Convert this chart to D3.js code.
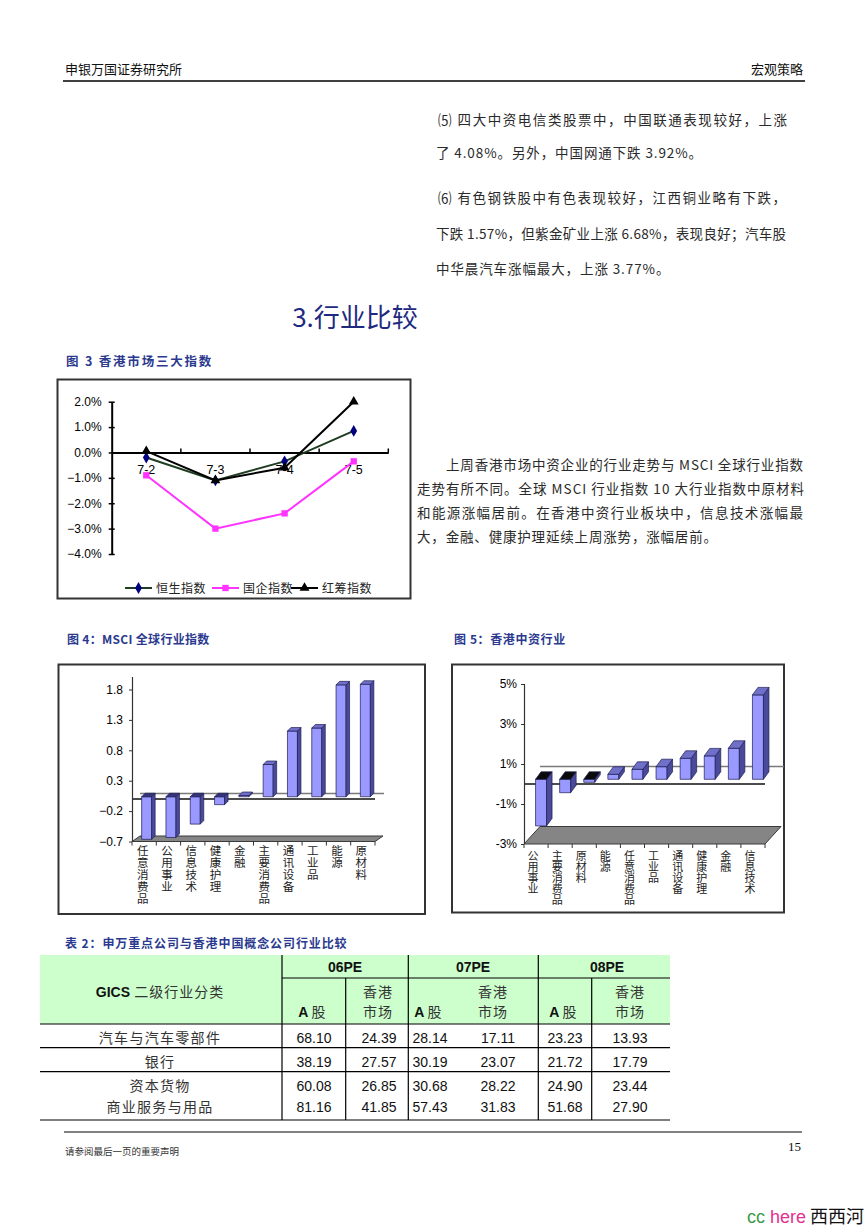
<!DOCTYPE html>
<html><head><meta charset="utf-8">
<script src="https://cdn.jsdelivr.net/npm/d3@7"></script>
<style>body{margin:0;background:#fff}svg{display:block}</style>
</head><body>
<script>
// ---------- data ----------
const fig3Dates = ["7-2", "7-3", "7-4", "7-5"];
const hsiValues = [-0.2, -1.1, -0.35, 0.85];      // 恒生指数
const hsceiValues = [-0.9, -3.0, -2.4, -0.35];    // 国企指数
const hscciValues = [0.05, -1.1, -0.6, 2.0];      // 红筹指数
const fig3Ticks = [2, 1, 0, -1, -2, -3, -4];
const fig3Legend = ["恒生指数", "国企指数", "红筹指数"];

const msciSectors = ["任意消费品", "公用事业", "信息技术", "健康护理", "金融", "主要消费品", "通讯设备", "工业品", "能源", "原材料"];
const msciValues = [-0.70, -0.67, -0.45, -0.13, 0.02, 0.53, 1.08, 1.13, 1.84, 1.85];
const msciTicks = [1.8, 1.3, 0.8, 0.3, -0.2, -0.7];

const hkSectors = ["公用事业", "主要消费品", "原材料", "能源", "任意消费品", "工业品", "通讯设备", "健康护理", "金融", "信息技术"];
const hkValues = [-2.33, -0.67, -0.15, 0.25, 0.5, 0.63, 1.05, 1.17, 1.55, 4.22];
const hkTicks = [5, 3, 1, -1, -3];

const tableSectors = ["汽车与汽车零部件", "银行", "资本货物", "商业服务与用品"];
const pe06A = [68.10, 38.19, 60.08, 81.16];
const pe06HK = [24.39, 27.57, 26.85, 41.85];
const pe07A = [28.14, 30.19, 30.68, 57.43];
const pe07HK = [17.11, 23.07, 28.22, 31.83];
const pe08A = [23.23, 21.72, 24.90, 51.68];
const pe08HK = [13.93, 17.79, 23.44, 27.90];
const peYears = ["06PE", "07PE", "08PE"];

// ---------- page ----------
const CJK = "'Noto Sans CJK SC', 'Noto Sans', sans-serif";
const SANS = "'Liberation Sans', Arial, sans-serif";
const SERIF = "'Liberation Serif', 'DejaVu Serif', serif";
const CAP = "#2b3a8f";

const svg = d3.select("body").append("svg").attr("width", 868).attr("height", 1229);
svg.append("rect").attr("width", 868).attr("height", 1229).attr("fill", "#fff");

function txt(x, y, s, o = {}) {
  const t = svg.append("text").attr("x", x).attr("y", y).text(s)
    .attr("font-family", o.family || CJK).attr("font-size", o.size || 14)
    .attr("fill", o.fill || "#222");
  if (o.anchor) t.attr("text-anchor", o.anchor);
  if (o.weight) t.attr("font-weight", o.weight);
  if (o.ls) t.attr("letter-spacing", o.ls);
  if (o.w) t.attr("textLength", o.w).attr("lengthAdjust", "spacing");
  return t;
}

// header
txt(65, 74, "申银万国证券研究所", {size: 13, fill: "#111"});
txt(803, 74, "宏观策略", {size: 13, fill: "#111", anchor: "end"});
svg.append("line").attr("x1", 63).attr("x2", 805).attr("y1", 81).attr("y2", 81).attr("stroke", "#000").attr("stroke-width", 1.5);

// paragraphs (upper right)
const para1 = [
  ["⑸ 四大中资电信类股票中，中国联通表现较好，上涨", 438, 125, 350],
  ["了 4.08%。另外，中国网通下跌 3.92%。", 436, 158, null],
  ["⑹ 有色钢铁股中有色表现较好，江西铜业略有下跌，", 438, 203, 349],
  ["下跌 1.57%，但紫金矿业上涨 6.68%，表现良好；汽车股", 436, 239, 351],
  ["中华晨汽车涨幅最大，上涨 3.77%。", 436, 274, null]
];
para1.forEach(p => txt(p[1], p[2], p[0], {size: 13.5, fill: "#2a2a2a", ls: 0.9, w: p[3] || null}));

// section title
txt(355, 327, "3.行业比较", {size: 26, fill: "#1e2a80", anchor: "middle"});

// captions
txt(66, 366, "图 3  香港市场三大指数", {size: 12.5, fill: CAP, weight: "bold", ls: 1.8});
txt(67, 644, "图 4：MSCI 全球行业指数", {size: 12, fill: CAP, weight: "bold", ls: 0.3});
txt(454, 644, "图 5：香港中资行业", {size: 12, fill: CAP, weight: "bold", ls: 0.6});
txt(65, 948, "表 2：申万重点公司与香港中国概念公司行业比较", {size: 12, fill: CAP, weight: "bold", ls: 0.9});

// right paragraph
const para2 = [
  ["上周香港市场中资企业的行业走势与 MSCI 全球行业指数", 446, 470, 357],
  ["走势有所不同。全球 MSCI 行业指数 10 大行业指数中原材料", 417, 494, 387],
  ["和能源涨幅居前。在香港中资行业板块中，信息技术涨幅最", 417, 518, 386],
  ["大，金融、健康护理延续上周涨势，涨幅居前。", 417, 542, 300]
];
para2.forEach(p => txt(p[1], p[2], p[0], {size: 13.5, fill: "#2a2a2a", w: p[3]}));

// ---------- Figure 3: line chart ----------
(function () {
  const g = svg.append("g");
  g.append("rect").attr("x", 57.5).attr("y", 379.5).attr("width", 353).attr("height", 219)
    .attr("fill", "#fff").attr("stroke", "#333").attr("stroke-width", 2);
  const x = d3.scaleBand().domain(fig3Dates).range([111.7, 388.3]);
  const y = d3.scaleLinear().domain([-4, 2]).range([554, 401.7]);
  const y0 = y(0);
  const ya = g.append("g").attr("transform", "translate(111.7,0)")
    .call(d3.axisLeft(y).tickValues(fig3Ticks).tickSizeOuter(0).tickSizeInner(3).tickPadding(7)
      .tickFormat(d => d3.format(".1f")(d) + "%"));
  ya.selectAll("line").attr("x1", 3).attr("x2", -3).attr("stroke", "#000").attr("stroke-width", 1.5);
  ya.select(".domain").attr("stroke", "#000").attr("stroke-width", 2);
  ya.selectAll("text").attr("font-family", SANS).attr("font-size", 12).attr("fill", "#000");
  const xa = g.append("g").attr("transform", `translate(0,${y0})`)
    .call(d3.axisBottom(x).tickSize(0).tickPadding(13));
  xa.select(".domain").attr("stroke", "#000").attr("stroke-width", 2);
  xa.selectAll("text").attr("font-family", SANS).attr("font-size", 12.5).attr("fill", "#000");
  g.selectAll(".xt").data(fig3Dates).join("line")
    .attr("x1", d => x(d) + x.bandwidth()).attr("x2", d => x(d) + x.bandwidth())
    .attr("y1", y0 - 4).attr("y2", y0).attr("stroke", "#000").attr("stroke-width", 1.5);

  const series = [
    {name: fig3Legend[0], vals: hsiValues, line: "#1f3d20", mark: "#000080", sym: d3.symbolDiamond, size: 40},
    {name: fig3Legend[1], vals: hsceiValues, line: "#ff33ff", mark: "#ff33ff", sym: d3.symbolSquare, size: 40},
    {name: fig3Legend[2], vals: hscciValues, line: "#000", mark: "#000", sym: d3.symbolTriangle, size: 42}
  ];
  const cx = d => x(d) + x.bandwidth() / 2;
  const line = d3.line().x(d => cx(d.k)).y(d => y(d.v));
  series.forEach(s => {
    const pts = fig3Dates.map((k, i) => ({k, v: s.vals[i]}));
    g.append("path").attr("d", line(pts)).attr("fill", "none").attr("stroke", s.line).attr("stroke-width", 2);
    g.selectAll(null).data(pts).join("path")
      .attr("transform", d => `translate(${cx(d.k)},${y(d.v)})`)
      .attr("d", d3.symbol(s.sym, s.size)).attr("fill", s.mark);
  });
  const lx = [125, 212, 291];
  series.forEach((s, i) => {
    const ly = 588;
    g.append("line").attr("x1", lx[i]).attr("x2", lx[i] + 27).attr("y1", ly).attr("y2", ly)
      .attr("stroke", s.line).attr("stroke-width", 2);
    g.append("path").attr("transform", `translate(${lx[i] + 13.5},${ly})`)
      .attr("d", d3.symbol(s.sym, s.size)).attr("fill", s.mark);
    g.append("text").attr("x", lx[i] + 31).attr("y", ly + 5).text(s.name)
      .attr("font-family", CJK).attr("font-size", 12).attr("fill", "#222").attr("letter-spacing", 0.5);
  });
})();

// ---------- 3D bar chart helper ----------
function bar3d(cfg) {
  const g = svg.append("g");
  g.append("rect").attr("x", cfg.box[0]).attr("y", cfg.box[1]).attr("width", cfg.box[2]).attr("height", cfg.box[3])
    .attr("fill", "#fff").attr("stroke", "#333").attr("stroke-width", 2);
  const x = d3.scaleBand().domain(cfg.cats).range([cfg.x0, cfg.x1]);
  const y = d3.scaleLinear().domain(cfg.domain).range(cfg.range);
  const [ddx, ddy] = cfg.depth;
  const yFloor = y(cfg.domain[0]);
  g.append("path").attr("d", `M${cfg.x0},${yFloor}L${cfg.x1},${yFloor}L${cfg.x1 + ddx},${yFloor + ddy}L${cfg.x0 + ddx},${yFloor + ddy}Z`)
    .attr("fill", "#858585").attr("stroke", "#3a3a3a").attr("stroke-width", 1);
  g.append("line").attr("x1", cfg.x0 + ddx).attr("x2", cfg.backEnd).attr("y1", y(0) + ddy).attr("y2", y(0) + ddy)
    .attr("stroke", "#7a7a7a").attr("stroke-width", 1.6);
  g.append("line").attr("x1", cfg.x0).attr("x2", cfg.x1).attr("y1", y(0)).attr("y2", y(0))
    .attr("stroke", "#111").attr("stroke-width", 1.6);
  const ya = g.append("g").attr("transform", `translate(${cfg.x0},0)`)
    .call(d3.axisLeft(y).tickValues(cfg.ticks).tickSizeOuter(0).tickSizeInner(3).tickPadding(cfg.pad).tickFormat(cfg.fmt));
  ya.select(".domain").attr("stroke", "#333").attr("stroke-width", 1.2)
    .attr("d", `M0.5,${yFloor}V${cfg.axisTop}`);
  ya.selectAll("line").attr("stroke", "#333");
  ya.selectAll("text").attr("font-family", SANS).attr("font-size", 12).attr("fill", "#000");
  g.selectAll(null).data(d3.range(cfg.cats.length + 1)).join("line")
    .attr("x1", i => cfg.x0 + i * x.step()).attr("x2", i => cfg.x0 + i * x.step())
    .attr("y1", yFloor).attr("y2", yFloor + 4).attr("stroke", "#333");
  const [ox, oy] = cfg.barOff, [bx, by] = cfg.barDepth, w = cfg.barW;
  cfg.cats.forEach((c, i) => {
    const v = cfg.vals[i];
    const xl = x(c) + x.bandwidth() / 2 - w / 2 + ox;
    const yTop = Math.min(y(v), y(0)) + oy, yBot = Math.max(y(v), y(0)) + oy;
    const bg = g.append("g").attr("stroke", "#1c1c55").attr("stroke-width", 0.7).attr("stroke-linejoin", "round");
    bg.append("rect").attr("x", xl).attr("y", yTop).attr("width", w).attr("height", yBot - yTop).attr("fill", "#9999ff");
    bg.append("path").attr("d", `M${xl + w},${yTop}L${xl + w + bx},${yTop + by}L${xl + w + bx},${yBot + by}L${xl + w},${yBot}Z`)
      .attr("fill", "#4a4a9a");
    bg.append("path").attr("d", `M${xl},${yTop}L${xl + bx},${yTop + by}L${xl + w + bx},${yTop + by}L${xl + w},${yTop}Z`)
      .attr("fill", v < 0 ? cfg.negTop : "#7070c8");
  });
  cfg.cats.forEach(c => {
    g.append("text").text(c)
      .attr("x", x(c) + x.bandwidth() / 2 + cfg.lx).attr("y", cfg.ly)
      .style("writing-mode", "vertical-rl").style("text-orientation", "upright")
      .attr("font-family", CJK).attr("font-size", cfg.lsize).attr("letter-spacing", cfg.lsp)
      .attr("fill", "#222");
  });
}

bar3d({
  box: [58.5, 664.5, 366.5, 249.5], cats: msciSectors, vals: msciValues,
  x0: 132, x1: 375, domain: [-0.7, 1.8], range: [841.5, 689.5], ticks: msciTicks,
  fmt: d => d3.format(".1f")(d), pad: 6, axisTop: 677,
  depth: [8, -5.5], backEnd: 384, barOff: [2.5, -2.2], barDepth: [3.5, -3.5], barW: 10,
  negTop: "#34347a", lsize: 11.5, lsp: 0.5, ly: 845, lx: -1.5
});

bar3d({
  box: [452, 664.5, 332, 248], cats: hkSectors, vals: hkValues,
  x0: 524, x1: 765, domain: [-3, 5], range: [844, 684], ticks: hkTicks,
  fmt: d => d + "%", pad: 4, axisTop: 684,
  depth: [16, -17.5], backEnd: 784, barOff: [5, -4.7], barDepth: [5.5, -7.5], barW: 11,
  negTop: "#0a0a0a", lsize: 11, lsp: 0.2, ly: 850, lx: -3
});

// ---------- Table ----------
(function () {
  const g = svg.append("g");
  const L = 40, R = 670, top = 955, hb = 1024;
  g.append("rect").attr("x", L).attr("y", top).attr("width", R - L).attr("height", hb - top).attr("fill", "#ccffcc");
  const hl = (x1, x2, yy) => g.append("line").attr("x1", x1).attr("x2", x2).attr("y1", yy).attr("y2", yy).attr("stroke", "#000").attr("stroke-width", 1.2);
  const vl = (xx, y1, y2) => g.append("line").attr("x1", xx).attr("x2", xx).attr("y1", y1).attr("y2", y2).attr("stroke", "#000").attr("stroke-width", 1.2);
  hl(282, R, 978);
  [hb, 1047.7, 1071.7, 1120].forEach(yy => hl(L, R, yy));
  vl(282, top, 1120); vl(408.3, top, 1120); vl(538.3, top, 1120);
  vl(345.7, 978, 1120); vl(591.7, 978, 1120);

  const h = g.append("text").attr("x", 160).attr("y", 997).attr("text-anchor", "middle");
  h.append("tspan").text("GICS").attr("font-family", SANS).attr("font-weight", "bold").attr("font-size", 14).attr("fill", "#111");
  h.append("tspan").text(" 二级行业分类").attr("font-family", CJK).attr("font-size", 14).attr("fill", "#333").attr("letter-spacing", 1);
  const yc = [345, 473, 607];
  peYears.forEach((yr, i) => g.append("text").attr("x", yc[i]).attr("y", 972).attr("text-anchor", "middle").text(yr)
    .attr("font-family", SANS).attr("font-weight", "bold").attr("font-size", 14).attr("fill", "#111"));
  const aX = [312, 428, 563], hX = [378, 493, 630];
  aX.forEach(xx => {
    const t = g.append("text").attr("x", xx).attr("y", 1017).attr("text-anchor", "middle");
    t.append("tspan").text("A").attr("font-family", SANS).attr("font-weight", "bold").attr("font-size", 14).attr("fill", "#111");
    t.append("tspan").text(" 股").attr("font-family", CJK).attr("font-size", 14).attr("fill", "#333");
  });
  hX.forEach(xx => {
    g.append("text").attr("x", xx).attr("y", 997).attr("text-anchor", "middle").text("香港").attr("font-family", CJK).attr("font-size", 14).attr("fill", "#333").attr("letter-spacing", 1);
    g.append("text").attr("x", xx).attr("y", 1017).attr("text-anchor", "middle").text("市场").attr("font-family", CJK).attr("font-size", 14).attr("fill", "#333").attr("letter-spacing", 1);
  });
  const rowY = [1042.5, 1066.5, 1090.5, 1112];
  const cols6 = [pe06A, pe06HK, pe07A, pe07HK, pe08A, pe08HK];
  const colX = [314, 379, 430, 498, 565, 630];
  const f = d3.format(".2f");
  tableSectors.forEach((s, i) => {
    g.append("text").attr("x", 160).attr("y", rowY[i]).attr("text-anchor", "middle").text(s)
      .attr("font-family", CJK).attr("font-size", 14).attr("fill", "#333").attr("letter-spacing", 1.3);
    cols6.forEach((arr, j) => g.append("text").attr("x", colX[j]).attr("y", rowY[i]).attr("text-anchor", "middle")
      .text(f(arr[i])).attr("font-family", SANS).attr("font-size", 14).attr("fill", "#111"));
  });
})();

// ---------- footer ----------
svg.append("line").attr("x1", 64).attr("x2", 802).attr("y1", 1132).attr("y2", 1132).attr("stroke", "#808080").attr("stroke-width", 2);
txt(65, 1155, "请参阅最后一页的重要声明", {size: 9.5, fill: "#333"});
txt(801, 1151, "15", {size: 13, fill: "#111", anchor: "end", family: SERIF});
const wm = svg.append("text").attr("x", 747).attr("y", 1223).attr("font-size", 18).attr("font-family", SANS);
wm.append("tspan").text("cc").attr("fill", "#3a9a48");
wm.append("tspan").text(" here").attr("fill", "#e0338f");
wm.append("tspan").text(" 西西河").attr("fill", "#111").attr("font-family", CJK);
</script>
</body></html>
